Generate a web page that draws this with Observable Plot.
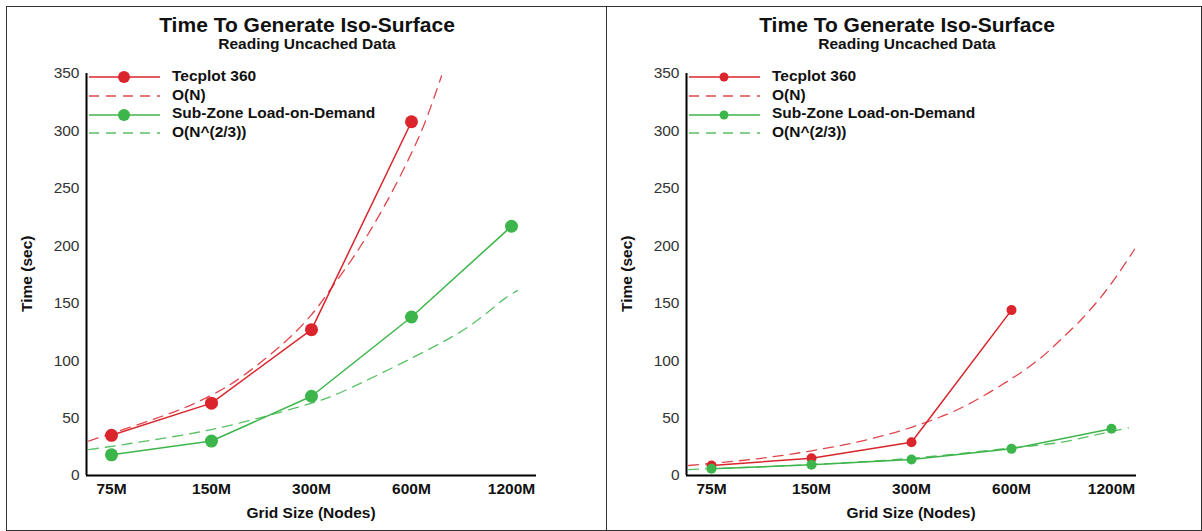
<!DOCTYPE html>
<html>
<head>
<meta charset="utf-8">
<script src="https://cdn.jsdelivr.net/npm/d3@7"></script>
<script src="https://cdn.jsdelivr.net/npm/@observablehq/plot@0.6"></script>
<style>
  body { margin: 0; background: #fff; }
  #root { position: relative; width: 1202px; height: 531px; overflow: hidden; background: #fff;
          font-family: "Liberation Sans", Arial, Helvetica, sans-serif; color: #111; }
  .abs { position: absolute; white-space: nowrap; }
  .title { font-size: 21px; font-weight: bold; line-height: 21px; text-align: center; width: 600px; }
  .subtitle { font-size: 15.5px; font-weight: bold; line-height: 15.5px; text-align: center; width: 600px; }
  .lbl { font-size: 15.5px; font-weight: bold; line-height: 15.5px; }
</style>
</head>
<body>
<div id="root"></div>
<script>
// ---------- data ----------
const gridSizes = [75, 150, 300, 600, 1200];           // millions of nodes
const tickLabels = ["75M", "150M", "300M", "600M", "1200M"];
const yTicks = [0, 50, 100, 150, 200, 250, 300, 350];
const seriesNames = ["Tecplot 360", "O(N)", "Sub-Zone Load-on-Demand", "O(N^(2/3))"];
const chartTitle = "Time To Generate Iso-Surface";
const chartSubtitle = "Reading Uncached Data";
const xTitle = "Grid Size (Nodes)";
const yTitle = "Time (sec)";

// left panel
const leftTecplot = [35, 63, 127, 308];
const leftSubZone = [18, 30, 69, 138, 217];
const leftON_n = [64, 122, 157, 185, 249, 300, 344, 416, 498, 587, 656, 739];
const leftON_v = [30, 58, 73, 86, 116, 140, 163, 197, 235, 275, 306, 348];
const leftON23_n = [64, 150, 300, 352, 831, 996, 1144, 1250];
const leftON23_v = [22.5, 40, 63, 70, 124, 140, 154, 161];

// right panel
const rightTecplot = [8.7, 15, 29, 144];
const rightSubZone = [5.8, 9.3, 14, 23.2, 40.7];
const rightON_n = [64, 75, 106, 150, 212, 300, 424, 613, 739, 849, 975, 1120, 1260, 1408];
const rightON_v = [8.7, 10.5, 15, 21.5, 30, 42, 59, 86, 103, 119, 136, 156, 176, 197];
const rightON23_n = [64, 150, 300, 600, 850, 1100, 1350];
const rightON23_v = [5.2, 9.5, 15, 24, 29, 36, 41.5];

const red = "#d9252b";
const green = "#3cb54a";
const fontFamily = '"Liberation Sans", Arial, Helvetica, sans-serif';

const root = document.getElementById("root");

function el(tag, cls, style, text) {
  const e = document.createElement(tag);
  if (cls) e.className = cls;
  Object.assign(e.style, style);
  if (text != null) e.textContent = text;
  return e;
}

// frame borders
root.appendChild(el("div", "", {position: "absolute", left: "6px", top: "6px", width: "1196px", height: "525px",
  border: "1px solid #333", boxSizing: "border-box"}));
root.appendChild(el("div", "", {position: "absolute", left: "606px", top: "6px", width: "1px", height: "525px", background: "#333"}));

function pts(xs, ys) { return ys.map((v, i) => ({n: xs[i], v})); }

function panel(cfg, offset) {
  const xDomain = [gridSizes[0] / 2 ** 0.25, gridSizes[gridSizes.length - 1] * 2 ** 0.25];
  const tec = pts(gridSizes, cfg.tecplot);
  const sub = pts(gridSizes, cfg.subzone);
  const on = pts(cfg.on_n, cfg.on_v);
  const on23 = pts(cfg.on23_n, cfg.on23_v);
  const chart = Plot.plot({
    width: 600, height: 470,
    marginLeft: 86, marginRight: 64, marginTop: 13, marginBottom: 55,
    style: {fontFamily, fontSize: "15.5px", color: "#222", background: "transparent", overflow: "visible"},
    x: {type: "log", domain: xDomain, ticks: gridSizes, tickFormat: d => tickLabels[gridSizes.indexOf(d)],
        tickSize: 0, tickPadding: 7, label: null},
    y: {domain: [0, yTicks[yTicks.length - 1]], ticks: yTicks, tickSize: 0, tickPadding: 7, label: null},
    marks: [
      Plot.line(on, {x: "n", y: "v", stroke: red, strokeWidth: 1.3, strokeDasharray: "10,7", curve: "catmull-rom", strokeOpacity: 0.85}),
      Plot.line(on23, {x: "n", y: "v", stroke: green, strokeWidth: 1.3, strokeDasharray: "10,7", curve: "catmull-rom", strokeOpacity: 0.85}),
      Plot.line(tec, {x: "n", y: "v", stroke: red, strokeWidth: 1.5}),
      Plot.line(sub, {x: "n", y: "v", stroke: green, strokeWidth: 1.5}),
      Plot.dot(tec, {x: "n", y: "v", r: cfg.r, fill: red}),
      Plot.dot(sub, {x: "n", y: "v", r: cfg.r, fill: green}),
      Plot.ruleY([0], {stroke: "#000", strokeWidth: 2}),
      Plot.ruleX([xDomain[0]], {stroke: "#000", strokeWidth: 2})
    ]
  });
  d3.select(chart).selectAll('g[aria-label^="x-axis"] text').attr("font-weight", "bold").attr("fill", "#111");
  d3.select(chart).selectAll('g[aria-label^="y-axis"] text').attr("fill", "#333");
  chart.style.position = "absolute";
  chart.style.left = offset + "px";
  chart.style.top = "60px";
  root.appendChild(chart);

  // titles
  root.appendChild(el("div", "abs title", {left: (offset + 7) + "px", top: "14px"}, chartTitle));
  root.appendChild(el("div", "abs subtitle", {left: (offset + 7) + "px", top: "36px"}, chartSubtitle));
  // axis titles
  root.appendChild(el("div", "abs lbl", {left: offset + "px", width: "622px", textAlign: "center", top: "505px"}, xTitle));
  const yl = el("div", "abs lbl", {left: (offset + 27 - 60) + "px", width: "120px", textAlign: "center",
    top: (274 - 8) + "px", transform: "rotate(-90deg)"}, yTitle);
  root.appendChild(yl);

  // legend
  const rows = [
    {name: seriesNames[0], color: red, dash: null, dot: true, y: 77},
    {name: seriesNames[1], color: red, dash: "10,7", dot: false, y: 96},
    {name: seriesNames[2], color: green, dash: null, dot: true, y: 114.5},
    {name: seriesNames[3], color: green, dash: "10,7", dot: false, y: 133}
  ];
  const ns = "http://www.w3.org/2000/svg";
  rows.forEach(row => {
    const s = document.createElementNS(ns, "svg");
    s.setAttribute("width", 74); s.setAttribute("height", 14);
    Object.assign(s.style, {position: "absolute", left: (offset + 88) + "px", top: (row.y - 7) + "px", overflow: "visible"});
    const ln = document.createElementNS(ns, "line");
    ln.setAttribute("x1", 1); ln.setAttribute("x2", 72); ln.setAttribute("y1", 7); ln.setAttribute("y2", 7);
    ln.setAttribute("stroke", row.color); ln.setAttribute("stroke-width", row.dash ? 1.3 : 1.5);
    if (row.dash) { ln.setAttribute("stroke-dasharray", row.dash); ln.setAttribute("stroke-opacity", 0.85); }
    s.appendChild(ln);
    if (row.dot) {
      const c = document.createElementNS(ns, "circle");
      c.setAttribute("cx", 36); c.setAttribute("cy", 7); c.setAttribute("r", cfg.legendR); c.setAttribute("fill", row.color);
      s.appendChild(c);
    }
    root.appendChild(s);
    root.appendChild(el("div", "abs lbl", {left: (offset + 172) + "px", top: (row.y - 9.5) + "px"}, row.name));
  });
}

panel({tecplot: leftTecplot, subzone: leftSubZone, on_n: leftON_n, on_v: leftON_v,
       on23_n: leftON23_n, on23_v: leftON23_v, r: 6.5, legendR: 6}, 0);
panel({tecplot: rightTecplot, subzone: rightSubZone, on_n: rightON_n, on_v: rightON_v,
       on23_n: rightON23_n, on23_v: rightON23_v, r: 5, legendR: 4.5}, 600);
</script>
</body>
</html>
